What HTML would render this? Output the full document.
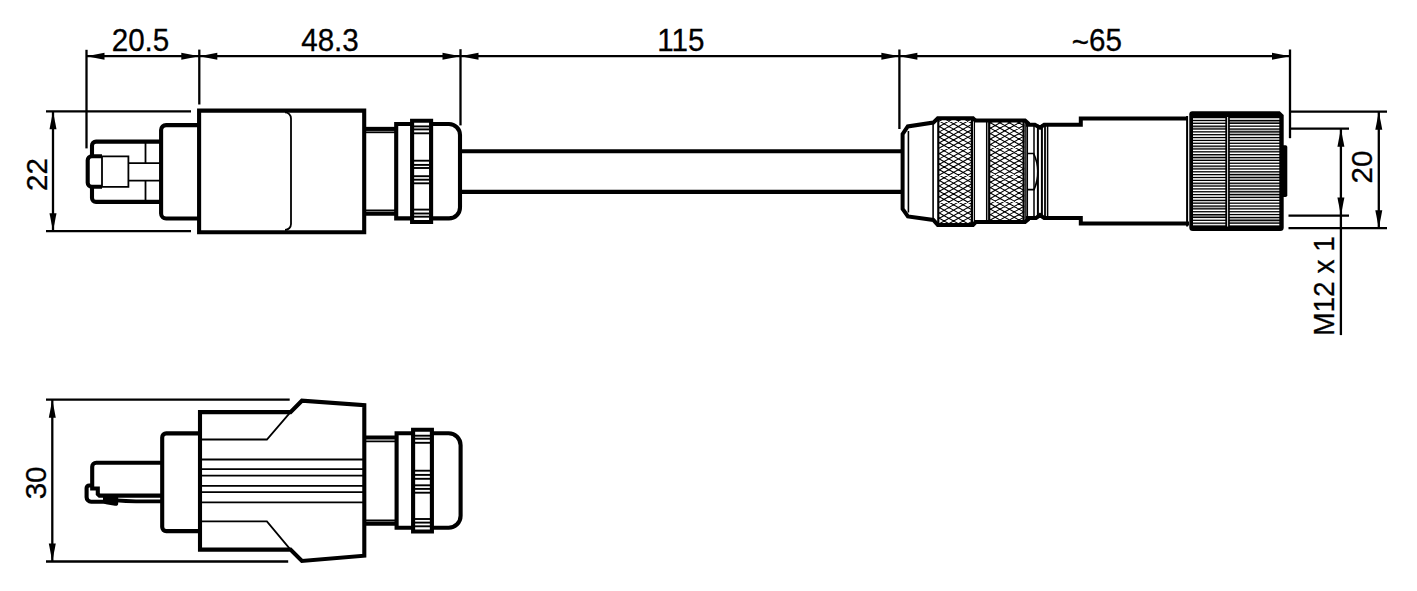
<!DOCTYPE html>
<html><head><meta charset="utf-8"><style>
html,body{margin:0;padding:0;background:#fff;width:1417px;height:591px;overflow:hidden}
svg{display:block}
text{font-family:"Liberation Sans",sans-serif;font-size:29.6px;fill:#000}
</style></head><body>
<svg width="1417" height="591" viewBox="0 0 1417 591">
<defs>
<pattern id="knurl" patternUnits="userSpaceOnUse" x="0" y="0" width="9.5" height="5.4">
<path d="M0,0 L9.5,5.4 M0,5.4 L9.5,0 M-9.5,0 L0,5.4 M9.5,0 L19,5.4" stroke="#000" stroke-width="1.5" fill="none"/>
</pattern>
</defs>
<rect width="1417" height="591" fill="#fff"/>
<g stroke="#000" fill="none" stroke-linejoin="miter" stroke-linecap="butt">
<line x1="86.5" y1="56.2" x2="1290" y2="56.2" stroke-width="2.3"/>
<polygon points="86.50,56.20 104.50,52.70 104.50,59.70" stroke="none" fill="#000"/>
<polygon points="199.30,56.20 181.30,52.70 181.30,59.70" stroke="none" fill="#000"/>
<polygon points="199.30,56.20 217.30,52.70 217.30,59.70" stroke="none" fill="#000"/>
<polygon points="460.50,56.20 442.50,52.70 442.50,59.70" stroke="none" fill="#000"/>
<polygon points="460.50,56.20 478.50,52.70 478.50,59.70" stroke="none" fill="#000"/>
<polygon points="899.40,56.20 881.40,52.70 881.40,59.70" stroke="none" fill="#000"/>
<polygon points="899.40,56.20 917.40,52.70 917.40,59.70" stroke="none" fill="#000"/>
<polygon points="1290.00,56.20 1272.00,52.70 1272.00,59.70" stroke="none" fill="#000"/>
<line x1="86.5" y1="49.8" x2="86.5" y2="148.4" stroke-width="2.3"/>
<line x1="199.3" y1="49.6" x2="199.3" y2="104.5" stroke-width="2.3"/>
<line x1="460.5" y1="49.2" x2="460.5" y2="125.4" stroke-width="2.3"/>
<line x1="899.4" y1="49.5" x2="899.4" y2="129" stroke-width="2.3"/>
<line x1="1290" y1="49.5" x2="1290" y2="138.2" stroke-width="2.3"/>
<text x="0" y="0" transform="translate(140.5,50.5) scale(1.0,1.03)" text-anchor="middle" stroke="#000" stroke-width="0.3">20.5</text>
<text x="0" y="0" transform="translate(330,50.5) scale(1.0,1.03)" text-anchor="middle" stroke="#000" stroke-width="0.3">48.3</text>
<text x="0" y="0" transform="translate(680.9,50.5) scale(1.0,1.03)" text-anchor="middle" stroke="#000" stroke-width="0.3">115</text>
<text x="0" y="0" transform="translate(1096.8,50.5) scale(1.0,1.03)" text-anchor="middle" stroke="#000" stroke-width="0.3"><tspan dy="2.3">~</tspan><tspan dy="-2.3">65</tspan></text>
<line x1="46" y1="111.3" x2="191" y2="111.3" stroke-width="2.3"/>
<line x1="46" y1="231.2" x2="191" y2="231.2" stroke-width="2.3"/>
<line x1="53" y1="111.3" x2="53" y2="231.2" stroke-width="2.3"/>
<polygon points="53.00,111.30 49.50,129.30 56.50,129.30" stroke="none" fill="#000"/>
<polygon points="53.00,231.20 49.50,213.20 56.50,213.20" stroke="none" fill="#000"/>
<text x="0" y="0" transform="translate(46.6,174.5) rotate(-90) scale(1.0,1.0)" text-anchor="middle" stroke="#000" stroke-width="0.3">22</text>
<path d="M161,141.6 H96 A4,4 0 0 0 92,145.6 V156.3" stroke-width="4.1" fill="none" />
<path d="M92,186.8 V197.9 A4,4 0 0 0 96,201.9 H161" stroke-width="4.1" fill="none" />
<path d="M102,156.3 H91.7 A4,4 0 0 0 87.7,160.3 V182.8 A4,4 0 0 0 91.7,186.8 H102" stroke-width="4.1" fill="none" />
<path d="M102,156.3 H128.4 V186.8 H102 Z" stroke-width="1.8" fill="none" />
<line x1="128.4" y1="163.1" x2="161" y2="163.1" stroke-width="1.8"/>
<line x1="128.4" y1="180.6" x2="161" y2="180.6" stroke-width="1.8"/>
<line x1="145.5" y1="141.6" x2="145.5" y2="163.1" stroke-width="1.8"/>
<line x1="145.5" y1="180.6" x2="145.5" y2="201.9" stroke-width="1.8"/>
<path d="M199,125.1 H166.1 A5,5 0 0 0 161.1,130.1 V213.5 A5,5 0 0 0 166.1,218.5 H199" stroke-width="4.1" fill="none" />
<path d="M199.1,110.6 H364.2 V232.3 H199.1 Z" stroke-width="4.1" fill="none" />
<path d="M285,112.4 A6,6 0 0 1 291,118.4 V224 A6,6 0 0 1 285,230" stroke-width="1.8" fill="none" />
<line x1="364" y1="128.9" x2="396" y2="128.9" stroke-width="4.1"/>
<line x1="364" y1="132.3" x2="396" y2="132.3" stroke-width="1.8"/>
<line x1="364" y1="210.4" x2="396" y2="210.4" stroke-width="1.8"/>
<line x1="364" y1="213.7" x2="396" y2="213.7" stroke-width="4.1"/>
<path d="M411,124 H396.2 V218.4 H411" stroke-width="4.1" fill="none" />
<path d="M412.1,120.75 H431.1 V222.05 H412.1 Z" stroke-width="4.1" fill="none" />
<line x1="414" y1="126.4" x2="429.3" y2="126.4" stroke-width="1.9"/>
<line x1="414" y1="129.4" x2="429.3" y2="129.4" stroke-width="1.9"/>
<line x1="414" y1="133.3" x2="429.3" y2="133.3" stroke-width="1.9"/>
<line x1="414" y1="160.7" x2="429.3" y2="160.7" stroke-width="1.9"/>
<line x1="414" y1="164.9" x2="429.3" y2="164.9" stroke-width="1.9"/>
<line x1="414" y1="168.0" x2="429.3" y2="168.0" stroke-width="1.9"/>
<line x1="414" y1="176.2" x2="429.3" y2="176.2" stroke-width="1.9"/>
<line x1="414" y1="179.7" x2="429.3" y2="179.7" stroke-width="1.9"/>
<line x1="414" y1="183.3" x2="429.3" y2="183.3" stroke-width="1.9"/>
<line x1="414" y1="209.6" x2="429.3" y2="209.6" stroke-width="1.9"/>
<line x1="414" y1="213.5" x2="429.3" y2="213.5" stroke-width="1.9"/>
<line x1="414" y1="216.7" x2="429.3" y2="216.7" stroke-width="1.9"/>
<path d="M431.8,124 H449 A11,11 0 0 1 460,135 V207.4 A11,11 0 0 1 449,218.4 H431.8" stroke-width="4.1" fill="none" />
<line x1="460" y1="151.3" x2="901" y2="151.3" stroke-width="4.1"/>
<line x1="460" y1="191.9" x2="901" y2="191.9" stroke-width="4.1"/>
<clipPath id="k1"><rect x="938.5" y="118.5" width="33.5" height="106.0"/></clipPath>
<path clip-path="url(#k1)" d="M938.50,99.02L972.00,118.06M938.50,104.42L972.00,123.46M938.50,109.82L972.00,128.86M938.50,115.22L972.00,134.26M938.50,121.58L972.00,102.54M938.50,120.62L972.00,139.66M938.50,126.98L972.00,107.94M938.50,126.02L972.00,145.06M938.50,132.38L972.00,113.34M938.50,131.42L972.00,150.46M938.50,137.78L972.00,118.74M938.50,136.82L972.00,155.86M938.50,143.18L972.00,124.14M938.50,142.22L972.00,161.26M938.50,148.58L972.00,129.54M938.50,147.62L972.00,166.66M938.50,153.98L972.00,134.94M938.50,153.02L972.00,172.06M938.50,159.38L972.00,140.34M938.50,158.42L972.00,177.46M938.50,164.78L972.00,145.74M938.50,163.82L972.00,182.86M938.50,170.18L972.00,151.14M938.50,169.22L972.00,188.26M938.50,175.58L972.00,156.54M938.50,174.62L972.00,193.66M938.50,180.98L972.00,161.94M938.50,180.02L972.00,199.06M938.50,186.38L972.00,167.34M938.50,185.42L972.00,204.46M938.50,191.78L972.00,172.74M938.50,190.82L972.00,209.86M938.50,197.18L972.00,178.14M938.50,196.22L972.00,215.26M938.50,202.58L972.00,183.54M938.50,201.62L972.00,220.66M938.50,207.98L972.00,188.94M938.50,207.02L972.00,226.06M938.50,213.38L972.00,194.34M938.50,212.42L972.00,231.46M938.50,218.78L972.00,199.74M938.50,217.82L972.00,236.86M938.50,224.18L972.00,205.14M938.50,223.22L972.00,242.26M938.50,229.58L972.00,210.54M938.50,234.98L972.00,215.94M938.50,240.38L972.00,221.34" stroke-width="1.05"/>
<clipPath id="k2"><rect x="989.5" y="121" width="35.0" height="100.80000000000001"/></clipPath>
<path clip-path="url(#k2)" d="M989.50,100.66L1024.50,120.55M989.50,106.06L1024.50,125.95M989.50,111.46L1024.50,131.35M989.50,116.86L1024.50,136.75M989.50,123.34L1024.50,103.45M989.50,122.26L1024.50,142.15M989.50,128.74L1024.50,108.85M989.50,127.66L1024.50,147.55M989.50,134.14L1024.50,114.25M989.50,133.06L1024.50,152.95M989.50,139.54L1024.50,119.65M989.50,138.46L1024.50,158.35M989.50,144.94L1024.50,125.05M989.50,143.86L1024.50,163.75M989.50,150.34L1024.50,130.45M989.50,149.26L1024.50,169.15M989.50,155.74L1024.50,135.85M989.50,154.66L1024.50,174.55M989.50,161.14L1024.50,141.25M989.50,160.06L1024.50,179.95M989.50,166.54L1024.50,146.65M989.50,165.46L1024.50,185.35M989.50,171.94L1024.50,152.05M989.50,170.86L1024.50,190.75M989.50,177.34L1024.50,157.45M989.50,176.26L1024.50,196.15M989.50,182.74L1024.50,162.85M989.50,181.66L1024.50,201.55M989.50,188.14L1024.50,168.25M989.50,187.06L1024.50,206.95M989.50,193.54L1024.50,173.65M989.50,192.46L1024.50,212.35M989.50,198.94L1024.50,179.05M989.50,197.86L1024.50,217.75M989.50,204.34L1024.50,184.45M989.50,203.26L1024.50,223.15M989.50,209.74L1024.50,189.85M989.50,208.66L1024.50,228.55M989.50,215.14L1024.50,195.25M989.50,214.06L1024.50,233.95M989.50,220.54L1024.50,200.65M989.50,219.46L1024.50,239.35M989.50,225.94L1024.50,206.05M989.50,231.34L1024.50,211.45M989.50,236.74L1024.50,216.85M989.50,242.14L1024.50,222.25" stroke-width="1.05"/>
<path d="M975.5,120.6 L973,118.2 H937.8 L933.3,122.6 L907.8,126.4 L902.6,134 V208.8 L907.9,216.4 L933.3,219.9 L937.8,224.9 H973 L975.5,222.3" stroke-width="4.0" fill="none" />
<line x1="938.3" y1="118" x2="938.3" y2="224.8" stroke-width="2.2"/>
<line x1="971.9" y1="118" x2="971.9" y2="224.8" stroke-width="2.2"/>
<line x1="908.4" y1="131" x2="908.4" y2="212.5" stroke-width="1.6"/>
<line x1="933.1" y1="122.4" x2="933.1" y2="220" stroke-width="1.6"/>
<line x1="974.4" y1="120.6" x2="974.4" y2="222.2" stroke-width="1.3"/>
<line x1="986.7" y1="120.6" x2="986.7" y2="222.2" stroke-width="1.5"/>
<line x1="989.2" y1="120.6" x2="989.2" y2="222.2" stroke-width="2.2"/>
<line x1="1023.6" y1="120.6" x2="1023.6" y2="222.2" stroke-width="2.2"/>
<line x1="1025.8" y1="121" x2="1025.8" y2="222" stroke-width="1.2"/>
<path d="M975,120.6 H1025 L1028,123.2 V124.7 H1034.9 L1040,127.7 L1044.2,124.7 H1080.8 V118.6 H1188" stroke-width="4.0" fill="none" />
<path d="M975,222.1 H1025 L1028,219.5 V218.1 H1036 L1040,215.1 L1044.2,218.1 H1080.8 V223.5 H1189" stroke-width="4.0" fill="none" />
<line x1="1027.3" y1="124.7" x2="1027.3" y2="218.1" stroke-width="1.5"/>
<line x1="1034" y1="124.7" x2="1034" y2="218.1" stroke-width="1.5"/>
<line x1="1037.9" y1="124.7" x2="1037.9" y2="218.1" stroke-width="2.0"/>
<line x1="1041.9" y1="124.7" x2="1041.9" y2="218.1" stroke-width="2.0"/>
<line x1="1045" y1="124.7" x2="1045" y2="218.1" stroke-width="1.8"/>
<line x1="1047.6" y1="124.7" x2="1047.6" y2="218.1" stroke-width="1.5"/>
<path d="M1027.3,153.5 H1033.6 Q1042,171.5 1034,189.6 H1027.3" stroke-width="1.7" fill="none" />
<line x1="1187.1" y1="116" x2="1187.1" y2="226.5" stroke-width="2.0"/>
<path d="M1192.3,111.2 H1279.8 L1283.7,115.1 V227.4 A3.5,3.5 0 0 1 1280.2,230.9 H1192.8 A3.5,3.5 0 0 1 1189.3,227.4 V114.2 A3,3 0 0 1 1192.3,111.2 Z" fill="#000" stroke="none"/>
<rect x="1281" y="145.2" width="6.3" height="51.8" rx="1.8" fill="#000" stroke="none"/>
<g stroke="none"><rect x="1193" y="118.25" width="32.3" height="1.55" fill="#fff" fill-opacity="1"/><rect x="1229.8" y="118.25" width="49.5" height="1.55" fill="#fff" fill-opacity="1"/><rect x="1193" y="121.10" width="32.3" height="1.55" fill="#fff" fill-opacity="0.9"/><rect x="1229.8" y="121.10" width="49.5" height="1.55" fill="#fff" fill-opacity="0.55"/><rect x="1193" y="123.96" width="32.3" height="1.55" fill="#fff" fill-opacity="1"/><rect x="1229.8" y="123.96" width="49.5" height="1.55" fill="#fff" fill-opacity="1"/><rect x="1193" y="126.81" width="32.3" height="1.55" fill="#fff" fill-opacity="0.7"/><rect x="1229.8" y="126.81" width="49.5" height="1.55" fill="#fff" fill-opacity="1"/><rect x="1193" y="129.66" width="32.3" height="1.55" fill="#fff" fill-opacity="1"/><rect x="1229.8" y="129.66" width="49.5" height="1.55" fill="#fff" fill-opacity="0.7"/><rect x="1193" y="132.51" width="32.3" height="1.55" fill="#fff" fill-opacity="1"/><rect x="1229.8" y="132.51" width="49.5" height="1.55" fill="#fff" fill-opacity="0.7"/><rect x="1193" y="135.37" width="32.3" height="1.55" fill="#fff" fill-opacity="1"/><rect x="1229.8" y="135.37" width="49.5" height="1.55" fill="#fff" fill-opacity="1"/><rect x="1193" y="138.22" width="32.3" height="1.55" fill="#fff" fill-opacity="1"/><rect x="1229.8" y="138.22" width="49.5" height="1.55" fill="#fff" fill-opacity="0.9"/><rect x="1193" y="141.07" width="32.3" height="1.55" fill="#fff" fill-opacity="1"/><rect x="1229.8" y="141.07" width="49.5" height="1.55" fill="#fff" fill-opacity="1"/><rect x="1193" y="143.92" width="32.3" height="1.55" fill="#fff" fill-opacity="1"/><rect x="1229.8" y="143.92" width="49.5" height="1.55" fill="#fff" fill-opacity="1"/><rect x="1193" y="146.78" width="32.3" height="1.55" fill="#fff" fill-opacity="0.8"/><rect x="1229.8" y="146.78" width="49.5" height="1.55" fill="#fff" fill-opacity="1"/><rect x="1193" y="149.63" width="32.3" height="1.55" fill="#fff" fill-opacity="1"/><rect x="1229.8" y="149.63" width="49.5" height="1.55" fill="#fff" fill-opacity="0.8"/><rect x="1193" y="152.48" width="32.3" height="1.55" fill="#fff" fill-opacity="1"/><rect x="1229.8" y="152.48" width="49.5" height="1.55" fill="#fff" fill-opacity="1"/><rect x="1193" y="155.34" width="32.3" height="1.55" fill="#fff" fill-opacity="0.8"/><rect x="1229.8" y="155.34" width="49.5" height="1.55" fill="#fff" fill-opacity="1"/><rect x="1193" y="158.19" width="32.3" height="1.55" fill="#fff" fill-opacity="0.8"/><rect x="1229.8" y="158.19" width="49.5" height="1.55" fill="#fff" fill-opacity="0.8"/><rect x="1193" y="161.04" width="32.3" height="1.55" fill="#fff" fill-opacity="1"/><rect x="1229.8" y="161.04" width="49.5" height="1.55" fill="#fff" fill-opacity="1"/><rect x="1193" y="163.89" width="32.3" height="1.55" fill="#fff" fill-opacity="1"/><rect x="1229.8" y="163.89" width="49.5" height="1.55" fill="#fff" fill-opacity="1"/><rect x="1193" y="166.75" width="32.3" height="1.55" fill="#fff" fill-opacity="0.8"/><rect x="1229.8" y="166.75" width="49.5" height="1.55" fill="#fff" fill-opacity="1"/><rect x="1193" y="169.60" width="32.3" height="1.55" fill="#fff" fill-opacity="1"/><rect x="1229.8" y="169.60" width="49.5" height="1.55" fill="#fff" fill-opacity="1"/><rect x="1193" y="172.45" width="32.3" height="1.55" fill="#fff" fill-opacity="1"/><rect x="1229.8" y="172.45" width="49.5" height="1.55" fill="#fff" fill-opacity="0.8"/><rect x="1193" y="175.30" width="32.3" height="1.55" fill="#fff" fill-opacity="1"/><rect x="1229.8" y="175.30" width="49.5" height="1.55" fill="#fff" fill-opacity="0.8"/><rect x="1193" y="178.16" width="32.3" height="1.55" fill="#fff" fill-opacity="1"/><rect x="1229.8" y="178.16" width="49.5" height="1.55" fill="#fff" fill-opacity="0.8"/><rect x="1193" y="181.01" width="32.3" height="1.55" fill="#fff" fill-opacity="1"/><rect x="1229.8" y="181.01" width="49.5" height="1.55" fill="#fff" fill-opacity="1"/><rect x="1193" y="183.86" width="32.3" height="1.55" fill="#fff" fill-opacity="0.8"/><rect x="1229.8" y="183.86" width="49.5" height="1.55" fill="#fff" fill-opacity="0.8"/><rect x="1193" y="186.71" width="32.3" height="1.55" fill="#fff" fill-opacity="1"/><rect x="1229.8" y="186.71" width="49.5" height="1.55" fill="#fff" fill-opacity="1"/><rect x="1193" y="189.57" width="32.3" height="1.55" fill="#fff" fill-opacity="1"/><rect x="1229.8" y="189.57" width="49.5" height="1.55" fill="#fff" fill-opacity="0.8"/><rect x="1193" y="192.42" width="32.3" height="1.55" fill="#fff" fill-opacity="1"/><rect x="1229.8" y="192.42" width="49.5" height="1.55" fill="#fff" fill-opacity="0.8"/><rect x="1193" y="195.27" width="32.3" height="1.55" fill="#fff" fill-opacity="1"/><rect x="1229.8" y="195.27" width="49.5" height="1.55" fill="#fff" fill-opacity="0.8"/><rect x="1193" y="198.12" width="32.3" height="1.55" fill="#fff" fill-opacity="1"/><rect x="1229.8" y="198.12" width="49.5" height="1.55" fill="#fff" fill-opacity="1"/><rect x="1193" y="200.98" width="32.3" height="1.55" fill="#fff" fill-opacity="0.8"/><rect x="1229.8" y="200.98" width="49.5" height="1.55" fill="#fff" fill-opacity="1"/><rect x="1193" y="203.83" width="32.3" height="1.55" fill="#fff" fill-opacity="1"/><rect x="1229.8" y="203.83" width="49.5" height="1.55" fill="#fff" fill-opacity="1"/><rect x="1193" y="206.68" width="32.3" height="1.55" fill="#fff" fill-opacity="0.7"/><rect x="1229.8" y="206.68" width="49.5" height="1.55" fill="#fff" fill-opacity="0.9"/><rect x="1193" y="209.54" width="32.3" height="1.55" fill="#fff" fill-opacity="1"/><rect x="1229.8" y="209.54" width="49.5" height="1.55" fill="#fff" fill-opacity="1"/><rect x="1193" y="212.39" width="32.3" height="1.55" fill="#fff" fill-opacity="1"/><rect x="1229.8" y="212.39" width="49.5" height="1.55" fill="#fff" fill-opacity="1"/><rect x="1193" y="215.24" width="32.3" height="1.55" fill="#fff" fill-opacity="0.55"/><rect x="1229.8" y="215.24" width="49.5" height="1.55" fill="#fff" fill-opacity="1"/><rect x="1193" y="218.09" width="32.3" height="1.55" fill="#fff" fill-opacity="1"/><rect x="1229.8" y="218.09" width="49.5" height="1.55" fill="#fff" fill-opacity="0.7"/><rect x="1193" y="220.95" width="32.3" height="1.55" fill="#fff" fill-opacity="1"/><rect x="1229.8" y="220.95" width="49.5" height="1.55" fill="#fff" fill-opacity="0.7"/><rect x="1193" y="223.80" width="32.3" height="1.55" fill="#fff" fill-opacity="0.9"/><rect x="1229.8" y="223.80" width="49.5" height="1.55" fill="#fff" fill-opacity="1"/></g>
<line x1="1227.6" y1="117" x2="1227.6" y2="226.5" stroke-width="0.9"/>
<line x1="1227.6" y1="117" x2="1227.6" y2="226.5" stroke="#fff" stroke-width="0.9"/>
<line x1="1290" y1="111.7" x2="1387" y2="111.7" stroke-width="2.3"/>
<line x1="1289.5" y1="128.7" x2="1349" y2="128.7" stroke-width="2.3"/>
<line x1="1288.5" y1="215.6" x2="1349" y2="215.6" stroke-width="2.3"/>
<line x1="1288.5" y1="228.2" x2="1387" y2="228.2" stroke-width="2.3"/>
<line x1="1378.8" y1="111.7" x2="1378.8" y2="228.2" stroke-width="2.3"/>
<polygon points="1378.80,111.70 1375.30,129.70 1382.30,129.70" stroke="none" fill="#000"/>
<polygon points="1378.80,228.20 1375.30,210.20 1382.30,210.20" stroke="none" fill="#000"/>
<line x1="1340.9" y1="128.7" x2="1340.9" y2="335.1" stroke-width="2.3"/>
<polygon points="1340.90,128.70 1337.40,146.70 1344.40,146.70" stroke="none" fill="#000"/>
<polygon points="1340.90,215.60 1337.40,197.60 1344.40,197.60" stroke="none" fill="#000"/>
<text x="0" y="0" transform="translate(1372.3,167) rotate(-90) scale(1.0,1.0)" text-anchor="middle" stroke="#000" stroke-width="0.3">20</text>
<text x="0" y="0" transform="translate(1334,286) rotate(-90) scale(0.945,1.0)" text-anchor="middle" stroke="#000" stroke-width="0.3">M12 x 1</text>
<line x1="46" y1="399.7" x2="289.7" y2="399.7" stroke-width="2.3"/>
<line x1="46" y1="561.5" x2="288.2" y2="561.5" stroke-width="2.3"/>
<line x1="52.3" y1="399.7" x2="52.3" y2="561.5" stroke-width="2.3"/>
<polygon points="52.30,399.70 48.80,417.70 55.80,417.70" stroke="none" fill="#000"/>
<polygon points="52.30,561.50 48.80,543.50 55.80,543.50" stroke="none" fill="#000"/>
<text x="0" y="0" transform="translate(46.3,482.9) rotate(-90) scale(1.0,1.0)" text-anchor="middle" stroke="#000" stroke-width="0.3">30</text>
<path d="M162,462.7 H96.2 A4,4 0 0 0 92.2,466.7 V488.5 H97.8 V494.1 L99.5,495.6 H162" stroke-width="4.1" fill="none" />
<path d="M92.2,485.5 H89.1 A2.5,2.5 0 0 0 86.6,488 V497.2 A4.5,4.5 0 0 0 91.1,501.7 H108" stroke-width="4.1" fill="none" />
<path d="M103,494 H114.5 Q118.2,494 118.2,497.8 V503.2 Q118.2,506.2 115,505.8 L106,504.2 Q103,503.8 103,501 Z" fill="#000" stroke="none"/>
<path d="M116,500.4 Q126,501.2 136,501.3 H162" stroke-width="3.8" fill="none" />
<path d="M200,433.4 H166.2 A4,4 0 0 0 162.2,437.4 V527.1 A4,4 0 0 0 166.2,531.1 H200" stroke-width="4.1" fill="none" />
<path d="M200,412.1 H290.5 L301.9,400.7 L364.3,405.2 V555.7 L301.9,561 L290.5,549.6 H200 Z" stroke-width="4.1" fill="none" />
<path d="M290.5,412.1 L266.9,439.5 H200" stroke-width="1.8" fill="none" />
<path d="M290.5,549.6 L266.9,521.4 H200" stroke-width="1.8" fill="none" />
<line x1="200" y1="459.5" x2="364" y2="459.5" stroke-width="1.8"/>
<line x1="200" y1="469.2" x2="364" y2="469.2" stroke-width="1.8"/>
<line x1="200" y1="475.6" x2="364" y2="475.6" stroke-width="1.8"/>
<line x1="200" y1="485.8" x2="364" y2="485.8" stroke-width="1.8"/>
<line x1="200" y1="492.2" x2="364" y2="492.2" stroke-width="1.8"/>
<line x1="200" y1="502.4" x2="364" y2="502.4" stroke-width="1.8"/>
<line x1="364" y1="437.5" x2="396.6" y2="437.5" stroke-width="4.1"/>
<line x1="364" y1="441.4" x2="396.6" y2="441.4" stroke-width="1.8"/>
<line x1="364" y1="520.5" x2="396.6" y2="520.5" stroke-width="1.8"/>
<line x1="364" y1="523.7" x2="396.6" y2="523.7" stroke-width="4.1"/>
<path d="M412.9,433.3 H396.6 V527.7 H412.9" stroke-width="4.1" fill="none" />
<path d="M413.1,429.8 H431.9 V531.5 H413.1 Z" stroke-width="4.1" fill="none" />
<line x1="415" y1="435.7" x2="430" y2="435.7" stroke-width="1.9"/>
<line x1="415" y1="438.7" x2="430" y2="438.7" stroke-width="1.9"/>
<line x1="415" y1="442.8" x2="430" y2="442.8" stroke-width="1.9"/>
<line x1="415" y1="470.7" x2="430" y2="470.7" stroke-width="1.9"/>
<line x1="415" y1="474.9" x2="430" y2="474.9" stroke-width="1.9"/>
<line x1="415" y1="478.8" x2="430" y2="478.8" stroke-width="1.9"/>
<line x1="415" y1="485.3" x2="430" y2="485.3" stroke-width="1.9"/>
<line x1="415" y1="488.9" x2="430" y2="488.9" stroke-width="1.9"/>
<line x1="415" y1="492.7" x2="430" y2="492.7" stroke-width="1.9"/>
<line x1="415" y1="519" x2="430" y2="519" stroke-width="1.9"/>
<line x1="415" y1="522.6" x2="430" y2="522.6" stroke-width="1.9"/>
<line x1="415" y1="526.3" x2="430" y2="526.3" stroke-width="1.9"/>
<path d="M432.6,433.3 H448.6 A12,12 0 0 1 460.6,445.3 V515.7 A12,12 0 0 1 448.6,527.7 H432.6" stroke-width="4.1" fill="none" />
</g>
</svg>
</body></html>
